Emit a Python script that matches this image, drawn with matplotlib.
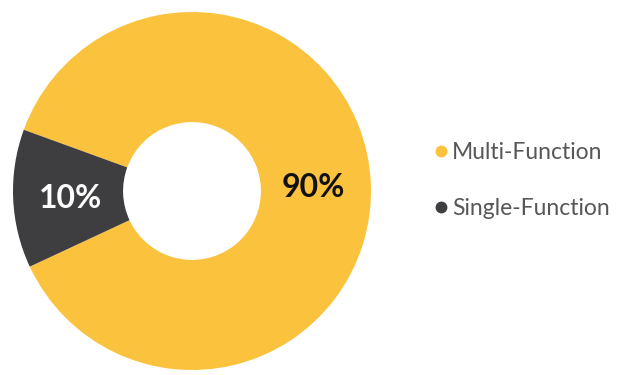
import numpy as np
import matplotlib.pyplot as plt
from matplotlib.lines import Line2D

# data (wedge sizes, labels as printed)
labels = ["Multi-Function", "Single-Function"]
shares = [87.5, 12.5]
pct_labels = ["90%", "10%"]
colors = ["#FBC23D", "#3E3D40"]
pct_colors = ["#111111", "#FFFFFF"]

plt.rcParams['font.family'] = ['Lato', 'DejaVu Sans']

fig = plt.figure(figsize=(6.28, 3.75), dpi=100)
# pie centre about (192, 191) px, radius 179 px
ax = fig.add_axes([13 / 628, 5 / 375, 358 / 628, 358 / 375])

wedges, texts = ax.pie(
    shares, colors=colors, startangle=205, counterclock=True,
    radius=1, wedgeprops=dict(width=0.615, linewidth=0),
)

# percentage labels in the middle of each ring segment
for w, txt, c in zip(wedges, pct_labels, pct_colors):
    mid = np.deg2rad((w.theta1 + w.theta2) / 2)
    r = 0.68
    ax.text(r * np.cos(mid), r * np.sin(mid) - 0.065, txt,
            ha='center', va='baseline', color=c, fontsize=23, fontweight='bold')

ax.set_xlim(-1, 1)
ax.set_ylim(-1, 1)
ax.set_aspect('equal')
ax.axis('off')

# legend with round markers
handles = [Line2D([0], [0], marker='o', linestyle='none', markersize=7.5,
                  markerfacecolor=c, markeredgecolor=c) for c in colors]
fig.legend(handles, labels, loc='upper left', bbox_to_anchor=(434 / 628, 1 - 142 / 375),
           frameon=False, fontsize=16.5, labelspacing=1.52, handletextpad=0.2,
           handlelength=0.6, borderpad=0, borderaxespad=0, labelcolor='#575757')

fig.savefig("out.png", dpi=100)
